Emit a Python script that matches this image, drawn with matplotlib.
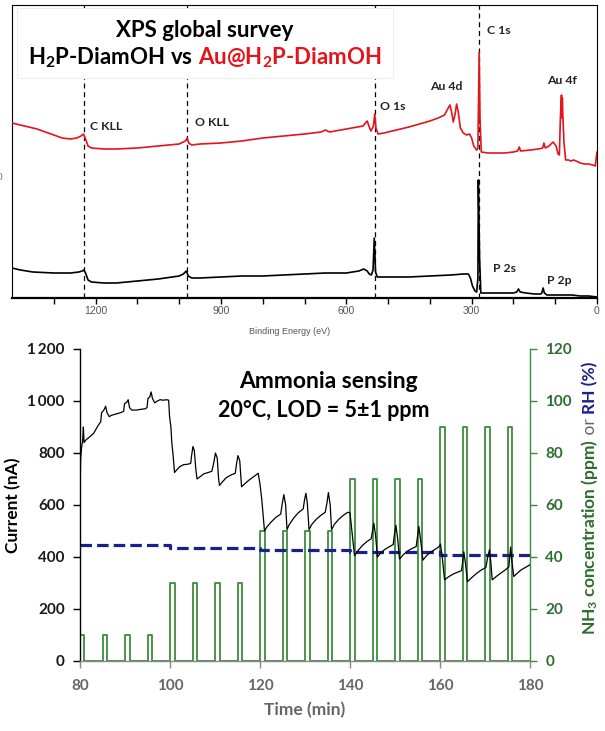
import matplotlib
matplotlib.use("Agg")
import matplotlib.pyplot as plt
from matplotlib.patches import Rectangle

plt.rcParams["font.family"] = ["Lato", "DejaVu Sans"]
plt.rcParams["mathtext.fontset"] = "custom"
plt.rcParams["mathtext.rm"] = "Lato"
plt.rcParams["mathtext.bf"] = "Lato:bold"
plt.rcParams["mathtext.it"] = "Lato:italic"

# ---------------- XPS survey data (binding energy in eV, intensity a.u.) ----------------
au_energy = [1400, 1380, 1360, 1340, 1320, 1300, 1280, 1260, 1245, 1235, 1229, 1225, 1218,
             1210, 1180, 1150, 1100, 1050, 1000, 985, 981, 977, 970, 950, 900, 850, 800, 750,
             700, 660, 650, 640, 600, 560, 550, 545, 541, 535, 532, 529, 524, 510, 500, 450,
             400, 380, 365, 356, 352, 348, 344, 340, 336, 332, 327, 320, 312, 305, 300, 295,
             288, 285, 282, 280, 277, 260, 240, 221, 200, 190, 186, 183, 160, 140, 130, 127,
             124, 115, 105, 98, 93, 90, 88, 86, 85, 84, 83, 82, 79, 75, 68, 62, 56, 50, 40,
             30, 20, 10, 4, 2, 0]
au_counts = [175, 173, 171, 169, 166, 163, 160, 159, 160, 162, 164, 160, 152,
             150, 149, 149, 150, 152, 154, 157, 160, 155, 153, 154, 155, 157, 160, 162,
             164, 166, 168, 166, 169, 172, 177, 171, 167, 172, 184, 170, 164, 165, 166, 171,
             177, 180, 183, 190, 193, 186, 176, 183, 194, 186, 170, 165, 163, 164, 160, 152,
             148, 150, 246, 180, 146, 145, 145, 145, 146, 147, 151, 147, 148, 149, 150, 155,
             150, 152, 156, 152, 144, 143, 175, 196, 203, 180, 200, 185, 155, 138, 138, 137, 138, 137, 135,
             134, 134, 133, 132, 140, 146]

h2p_energy = [1400, 1380, 1350, 1300, 1260, 1240, 1232, 1228, 1224, 1218, 1210, 1180, 1150,
              1100, 1050, 1000, 990, 983, 978, 970, 950, 900, 850, 800, 750, 700, 650, 600,
              570, 558, 550, 545, 540, 536, 533, 530, 526, 500, 450, 400, 350, 320, 308, 303,
              298, 292, 288, 285, 284, 281, 278, 260, 240, 221, 200, 192, 188, 184, 170, 150,
              135, 132, 129, 126, 120, 100, 80, 60, 40, 20, 0]
h2p_counts = [30, 28, 26, 25, 25, 26, 27, 28, 25, 18, 16, 15, 15,
              17, 19, 22, 24, 27, 22, 20, 20, 21, 22, 22, 23, 24, 25, 25,
              27, 29, 27, 24, 23, 28, 60, 26, 21, 21, 21, 22, 23, 24, 24, 20,
              12, 7, 6, 20, 118, 40, 5, 5, 5, 5, 5, 6, 9, 6, 5, 4,
              4, 5, 10, 5, 3, 3, 3, 3, 2, 2, 1]

marker_energy = [1228, 981, 532, 282]

peak_labels = ["C KLL", "O KLL", "O 1s", "Au 4d", "C 1s", "Au 4f", "P 2s", "P 2p"]
peak_label_energy = [1214, 962, 519, 399, 264, 120, 248, 120]
peak_label_height = [171, 176, 191, 212, 268, 218, 30, 17]

# ---------------- Ammonia sensing data ----------------
time_min = [80.0, 80.15, 80.35, 80.6, 80.75, 80.9, 81.3, 82.0, 83.0, 84.0, 84.6, 84.8, 85.3,
            85.7, 86.0, 86.5, 87.0, 88.0, 89.0, 89.7, 89.9, 90.4, 90.7, 91.0, 91.5, 92.5,
            93.5, 94.5, 94.9, 95.1, 95.5, 95.8, 96.1, 96.6, 97.2, 97.8, 98.5, 99.2, 99.7,
            99.9, 100.2, 100.4, 100.7, 101.0, 101.5, 102.2, 103.0, 104.0, 104.6, 104.8,
            105.1, 105.4, 105.7, 106.0, 106.8, 107.5, 108.5, 109.3, 109.7, 110.1, 110.5,
            110.8, 111.0, 111.7, 112.5, 113.5, 114.5, 114.8, 115.1, 115.5, 115.9, 116.5,
            117.5, 118.5, 119.6, 120.0, 120.4, 120.8, 121.0, 121.5, 122.5, 123.5, 124.6,
            124.9, 125.3, 125.7, 126.0, 126.5, 127.5, 128.5, 129.6, 129.9, 130.2, 130.5,
            130.9, 131.5, 132.5, 133.5, 134.5, 134.9, 135.2, 135.6, 135.9, 136.5, 137.5,
            138.5, 139.5, 140.0, 140.3, 140.6, 141.0, 141.8, 142.8, 143.8, 144.7, 145.0,
            145.3, 145.7, 146.1, 146.8, 147.8, 148.8, 149.6, 149.9, 150.2, 150.6, 151.0,
            151.8, 152.8, 153.8, 154.7, 155.0, 155.3, 155.8, 156.2, 157.0, 158.0, 159.0,
            159.8, 160.1, 160.5, 161.0, 162.0, 163.0, 164.0, 164.8, 165.1, 165.3, 165.7,
            166.1, 167.0, 168.0, 169.0, 170.2, 170.6, 171.0, 171.3, 171.6, 172.5, 173.5,
            174.5, 175.3, 175.5, 175.7, 176.0, 176.4, 177.0, 178.0, 179.0, 180.0]
current_na = [640, 780, 820, 850, 900, 840, 850, 860, 875, 905, 920, 955, 965,
              980, 955, 940, 945, 950, 955, 960, 990, 995, 1005, 975, 965, 965,
              968, 970, 975, 1010, 1015, 1035, 1010, 993, 1000, 1005, 1003, 1005, 1003,
              940, 900, 840, 790, 725, 735, 748, 755, 757, 760, 790,
              825, 810, 745, 700, 710, 720, 725, 730, 760, 800, 780,
              700, 675, 690, 705, 715, 722, 760, 790, 770, 670, 680,
              695, 708, 722, 680, 620, 540, 500, 515, 535, 552, 565,
              600, 640, 600, 505, 525, 550, 570, 585, 620, 645, 610,
              505, 525, 545, 560, 572, 610, 648, 600, 505, 525, 545,
              560, 572, 570, 520, 470, 405, 425, 445, 460, 470, 500,
              530, 480, 400, 415, 430, 440, 448, 490, 522, 470, 392,
              408, 423, 433, 440, 480, 518, 450, 388, 405, 420, 430,
              440, 450, 400, 312, 325, 335, 342, 348, 390, 420, 370,
              305, 320, 335, 348, 360, 400, 428, 380, 312, 325, 338,
              350, 362, 400, 438, 380, 325, 335, 350, 360, 370]

pulse_start = [80, 85, 90, 95, 100, 105, 110, 115, 120, 125, 130, 135,
               140, 145, 150, 155, 160, 165, 170, 175]
pulse_end = [80.8, 86, 91, 96, 101, 106, 111, 116, 121, 126, 131, 136,
             141, 146, 151, 156, 161, 166, 171, 176]
pulse_ppm = [10, 10, 10, 10, 30, 30, 30, 30, 50, 50, 50, 50,
             70, 70, 70, 70, 90, 90, 90, 90]

rh_start = [80, 100, 120, 140, 160, 180]
rh_percent = [44.5, 43.5, 42.7, 41.8, 40.7, 40.7]

current_ticks = [0, 200, 400, 600, 800, 1000, 1200]
ppm_ticks = [0, 20, 40, 60, 80, 100, 120]
time_ticks = [80, 100, 120, 140, 160, 180]

# ---------------- figure ----------------
W, H = 605, 731
fig = plt.figure(figsize=(W / 100, H / 100), dpi=100)


def fx(px):
    return px / W


def fy(py):
    return 1 - py / H


RED = "#e3141b"
GREEN_LINE = "#3d8b3d"
GREEN_TEXT = "#2e6e2e"
NAVY = "#1a1f8c"
GRAY = "#666666"

renderer = fig.canvas.get_renderer()


def advance(s, **kw):
    """Width in pixels a text piece occupies, including edge spaces."""
    a = fig.text(0, 0, s + "l", **kw)
    b = fig.text(0, 0, "l", **kw)
    w = a.get_window_extent(renderer).width - b.get_window_extent(renderer).width
    a.remove()
    b.remove()
    return w


def chain_text(x, y, pieces, rotation=0, center=False, **common):
    widths = [advance(s, **{**common, **kw}) for s, kw in pieces]
    if center:
        total = sum(widths)
        if rotation == 0:
            x -= total / 2 / W
        else:
            y -= total / 2 / H
    for (s, kw), w in zip(pieces, widths):
        fig.text(x, y, s, rotation=rotation, rotation_mode="anchor",
                 ha="left", va="baseline", **{**common, **kw})
        if rotation == 0:
            x += w / W
        else:
            y += w / H


# ---------------- top panel: XPS survey ----------------
ax1 = fig.add_axes([fx(12), fy(298), fx(597) - fx(12), fy(5) - fy(298)])
ax1.set_xlim(1400, 0)
ax1.set_ylim(0, 293)
ax1.plot(au_energy, au_counts, color=RED, lw=1.2, zorder=3)
ax1.plot(h2p_energy, h2p_counts, color="black", lw=1.2, zorder=3)
for e in marker_energy:
    ax1.axvline(e, color="black", lw=0.9, dashes=(4, 3), zorder=2)

ax1.add_patch(Rectangle((0.0085, 0.751), 0.643, 0.239, transform=ax1.transAxes,
                        facecolor="white", edgecolor="#eeeeee", lw=0.8, zorder=4))

for lab, e, h in zip(peak_labels, peak_label_energy, peak_label_height):
    ax1.text(e, h, lab, fontsize=8.8, fontweight="bold", color="#222222",
             ha="left", va="center", zorder=5)

xt = list(range(1300, -1, -100))
ax1.set_xticks(xt)
ax1.set_xticklabels([str(v) if v % 300 == 0 else "" for v in xt],
                    fontfamily="Liberation Sans", fontsize=7.5, color="#555555")
ax1.tick_params(axis="x", direction="out", length=4, width=1, pad=2)
ax1.set_yticks([])
for side in ["left", "top", "right"]:
    ax1.spines[side].set_linewidth(0.8)
ax1.spines["bottom"].set_linewidth(1.6)

fig.text(fx(290), fy(331), "Binding Energy (eV)", fontfamily="Liberation Sans",
         fontsize=6.5, color="#555555", ha="center", va="center")
fig.text(fx(1), fy(177), ")", fontfamily="Liberation Sans", fontsize=6,
         color="#555555", ha="center", va="center")

fig.text(fx(205), fy(37), "XPS global survey", fontsize=16, fontweight="bold",
         ha="center", va="baseline", zorder=6)
chain_text(fx(205), fy(65),
           [("H$_\\mathbf{2}$P-DiamOH vs ", {"color": "black"}),
            ("Au@H$_\\mathbf{2}$P-DiamOH", {"color": RED})],
           center=True, fontsize=16, fontweight="bold", zorder=6)

# ---------------- bottom panel: ammonia sensing ----------------
ax2 = fig.add_axes([fx(80), fy(661), fx(530) - fx(80), fy(349) - fy(661)])
ax2r = ax2.twinx()
ax2.set_zorder(ax2r.get_zorder() + 1)
ax2.patch.set_visible(False)

px, py = [80], [0]
for s, e, v in zip(pulse_start, pulse_end, pulse_ppm):
    px += [s, s, e, e]
    py += [0, v, v, 0]
px.append(180)
py.append(0)
ax2r.plot(px, py, color=GREEN_LINE, lw=1.3)
ax2r.step(rh_start, rh_percent, where="post", color=NAVY, lw=2.3, dashes=(3.6, 1.6))

ax2.plot(time_min, current_na, color="black", lw=0.9)

ax2.set_xlim(80, 180)
ax2.set_ylim(0, 1200)
ax2r.set_ylim(0, 120)

ax2.set_xticks(time_ticks)
ax2.set_xticklabels([str(t) for t in time_ticks], fontsize=11, fontweight="bold", color=GRAY)
ax2.set_yticks(current_ticks)
ax2.set_yticklabels([f"{v:,}".replace(",", "\u2009") if v >= 1000 else str(v)
                     for v in current_ticks], fontsize=11, fontweight="bold", color="#1a1a1a")
ax2r.set_yticks(ppm_ticks)
ax2r.set_yticklabels([str(v) for v in ppm_ticks], fontsize=11, fontweight="bold",
                     color=GREEN_TEXT)

ax2.tick_params(axis="y", direction="out", length=5, width=1, color="black", pad=6)
ax2.tick_params(axis="x", direction="out", length=5, width=1, color="#888888", pad=8)
ax2r.tick_params(axis="y", direction="out", length=5, width=1, color=GREEN_LINE, pad=6)

for a in (ax2, ax2r):
    a.spines["top"].set_visible(False)
ax2.spines["right"].set_visible(False)
ax2r.spines["left"].set_visible(False)
ax2r.spines["bottom"].set_visible(False)
ax2.spines["left"].set_color("black")
ax2.spines["bottom"].set_color("#888888")
ax2r.spines["right"].set_color(GREEN_LINE)
for a in (ax2, ax2r):
    for sp in a.spines.values():
        sp.set_linewidth(1.0)

fig.text(fx(13), fy(505), "Current (nA)", rotation=90, fontsize=12.5, fontweight="bold",
         color="black", ha="center", va="center")
fig.text(fx(305), fy(710), "Time (min)", fontsize=12.5, fontweight="bold", color=GRAY,
         ha="center", va="center")
chain_text(fx(595), fy(498),
           [("NH$_\\mathbf{3}$ concentration (ppm)", {"color": GREEN_TEXT, "fontweight": "bold"}),
            (" or ", {"color": GRAY, "fontweight": "normal"}),
            ("RH (%)", {"color": NAVY, "fontweight": "bold"})],
           rotation=90, center=True, fontsize=12.5)

fig.text(fx(328), fy(388), "Ammonia sensing", fontsize=16.5, fontweight="bold",
         ha="center", va="baseline")
fig.text(fx(324), fy(417), "20°C, LOD = 5±1 ppm", fontsize=15.5, fontweight="bold",
         ha="center", va="baseline")

fig.savefig("out.png", dpi=100)
